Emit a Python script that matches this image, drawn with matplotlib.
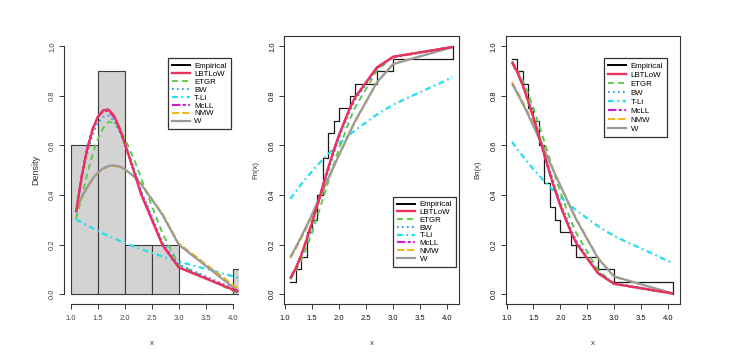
import matplotlib
matplotlib.use('Agg')
import matplotlib.pyplot as plt
from matplotlib.lines import Line2D

plt.rcParams['font.family'] = ['Liberation Sans', 'DejaVu Sans']

# sorted distinct observations and the empirical cdf / survival
xs = [1.1, 1.2, 1.3, 1.4, 1.5, 1.6, 1.7, 1.8, 1.9, 2.0, 2.2, 2.3, 2.7, 3.0, 4.1]
ecdf = [0.05, 0.10, 0.15, 0.25, 0.30, 0.40, 0.55, 0.65, 0.70, 0.75, 0.80, 0.85, 0.90, 0.95, 1.00]
esurv = [0.95, 0.90, 0.85, 0.75, 0.70, 0.60, 0.45, 0.35, 0.30, 0.25, 0.20, 0.15, 0.10, 0.05, 0.00]

hist_breaks = [1.0, 1.5, 2.0, 2.5, 3.0, 3.5, 4.0, 4.5]
hist_density = [0.6, 0.9, 0.2, 0.2, 0.0, 0.0, 0.1]

model_names = ['LBTLoW', 'ETGR', 'BW', 'T-Li', 'McLL', 'NMW', 'W']

# fitted densities at xs
pdf_lbtlow = [0.333, 0.47, 0.58, 0.66, 0.715, 0.742, 0.745, 0.72, 0.672, 0.61, 0.475, 0.405, 0.198, 0.108, 0.01]
pdf_etgr = [0.305, 0.39, 0.48, 0.56, 0.625, 0.67, 0.695, 0.692, 0.668, 0.63, 0.53, 0.47, 0.245, 0.12, 0.003]
pdf_bw = [0.33, 0.46, 0.565, 0.64, 0.69, 0.715, 0.72, 0.70, 0.66, 0.61, 0.49, 0.42, 0.21, 0.12, 0.015]
pdf_tli = [0.302, 0.29, 0.278, 0.267, 0.256, 0.245, 0.235, 0.225, 0.216, 0.207, 0.19, 0.182, 0.152, 0.132, 0.067]
pdf_mcll = [0.33, 0.475, 0.585, 0.665, 0.715, 0.738, 0.74, 0.715, 0.668, 0.607, 0.478, 0.41, 0.20, 0.11, 0.012]
pdf_nmw = [0.335, 0.385, 0.427, 0.462, 0.488, 0.505, 0.515, 0.517, 0.513, 0.503, 0.47, 0.447, 0.325, 0.205, 0.022]
pdf_w = [0.34, 0.39, 0.43, 0.465, 0.49, 0.508, 0.518, 0.52, 0.516, 0.505, 0.47, 0.445, 0.32, 0.20, 0.012]

# fitted cdfs at xs
cdf_lbtlow = [0.065, 0.105, 0.157, 0.22, 0.288, 0.361, 0.436, 0.509, 0.579, 0.643, 0.751, 0.795, 0.915, 0.958, 0.997]
cdf_etgr = [0.06, 0.095, 0.138, 0.19, 0.25, 0.315, 0.384, 0.453, 0.522, 0.587, 0.705, 0.755, 0.902, 0.958, 0.999]
cdf_bw = [0.065, 0.104, 0.155, 0.215, 0.282, 0.353, 0.426, 0.497, 0.565, 0.628, 0.738, 0.784, 0.91, 0.955, 0.996]
cdf_tli = [0.385, 0.415, 0.443, 0.47, 0.496, 0.52, 0.544, 0.566, 0.587, 0.607, 0.645, 0.662, 0.725, 0.765, 0.875]
cdf_mcll = [0.064, 0.105, 0.158, 0.222, 0.29, 0.363, 0.437, 0.51, 0.579, 0.642, 0.75, 0.794, 0.914, 0.957, 0.997]
cdf_nmw = [0.145, 0.183, 0.224, 0.268, 0.315, 0.364, 0.413, 0.463, 0.512, 0.56, 0.652, 0.696, 0.852, 0.93, 0.997]
cdf_w = [0.15, 0.19, 0.232, 0.276, 0.322, 0.37, 0.418, 0.467, 0.515, 0.562, 0.655, 0.70, 0.855, 0.928, 0.997]

# fitted survival functions at xs
sf_lbtlow = [0.935, 0.895, 0.843, 0.78, 0.712, 0.639, 0.564, 0.491, 0.421, 0.357, 0.249, 0.205, 0.085, 0.042, 0.003]
sf_etgr = [0.94, 0.905, 0.862, 0.81, 0.75, 0.685, 0.616, 0.547, 0.478, 0.413, 0.295, 0.245, 0.098, 0.042, 0.001]
sf_bw = [0.935, 0.896, 0.845, 0.785, 0.718, 0.647, 0.574, 0.503, 0.435, 0.372, 0.262, 0.216, 0.09, 0.045, 0.004]
sf_tli = [0.615, 0.585, 0.557, 0.53, 0.504, 0.48, 0.456, 0.434, 0.413, 0.393, 0.355, 0.338, 0.275, 0.235, 0.125]
sf_mcll = [0.936, 0.895, 0.842, 0.778, 0.71, 0.637, 0.563, 0.49, 0.421, 0.358, 0.25, 0.206, 0.086, 0.043, 0.003]
sf_nmw = [0.855, 0.817, 0.776, 0.732, 0.685, 0.636, 0.587, 0.537, 0.488, 0.44, 0.348, 0.304, 0.148, 0.07, 0.003]
sf_w = [0.85, 0.81, 0.768, 0.724, 0.678, 0.63, 0.582, 0.533, 0.485, 0.438, 0.345, 0.30, 0.145, 0.072, 0.003]

pdfs = [pdf_lbtlow, pdf_etgr, pdf_bw, pdf_tli, pdf_mcll, pdf_nmw, pdf_w]
cdfs = [cdf_lbtlow, cdf_etgr, cdf_bw, cdf_tli, cdf_mcll, cdf_nmw, cdf_w]
sfs = [sf_lbtlow, sf_etgr, sf_bw, sf_tli, sf_mcll, sf_nmw, sf_w]

# color, dashes, width, zorder
styles = [
    ('#E8335A', (None, None), 1.7, 9),
    ('#5CCC48', (3.0, 2.2), 1.4, 4),
    ('#3A9BF0', (0.8, 1.6), 1.5, 5),
    ('#22DDEE', (2.6, 1.6, 0.8, 1.6), 1.6, 3),
    ('#D815CF', (4.0, 1.2, 1.4, 1.2), 1.5, 8),
    ('#F5B000', (4.0, 1.6), 1.3, 6),
    ('#9A9A9A', (None, None), 1.6, 7),
]


def draw_models(ax, series):
    for name, vals, (col, dash, lw, z) in zip(model_names, series, styles):
        ln, = ax.plot(xs, vals, color=col, lw=lw, zorder=z, solid_capstyle='butt')
        if dash[0] is not None:
            ln.set_dashes(dash)


def add_legend(ax, x0, ytop, spacing):
    handles = [Line2D([], [], color='black', lw=1.4, label='Empirical')]
    for name, (col, dash, lw, z) in zip(model_names, styles):
        h = Line2D([], [], color=col, lw=lw, label=name)
        if dash[0] is not None:
            h.set_dashes(dash)
        handles.append(h)
    leg = ax.legend(handles=handles, loc='upper left', bbox_to_anchor=(x0, ytop),
                    frameon=True, fancybox=False, framealpha=1, edgecolor='#333333',
                    fontsize=5.7, handlelength=2.3, handletextpad=0.55,
                    labelspacing=spacing, borderpad=0.5, borderaxespad=0)
    leg.get_frame().set_linewidth(0.9)
    leg.set_zorder(20)


def style_axes(ax, ylabel, box=True, tick_color='#111111'):
    ax.set_ylim(-0.04, 1.04)
    ax.set_yticks([0.0, 0.2, 0.4, 0.6, 0.8, 1.0])
    ax.set_xticks([1.0, 1.5, 2.0, 2.5, 3.0, 3.5, 4.0])
    ax.set_yticklabels(['0.0', '0.2', '0.4', '0.6', '0.8', '1.0'])
    ax.set_xticklabels(['1.0', '1.5', '2.0', '2.5', '3.0', '3.5', '4.0'])
    ax.tick_params(direction='out', length=3.6, width=0.7, labelsize=5.5,
                   color='#333333', labelcolor=tick_color)
    ax.tick_params(axis='x', pad=4.5)
    ax.tick_params(axis='y', pad=2, labelrotation=90)
    for tl in ax.get_yticklabels():
        tl.set_va('center')
    for sp in ax.spines.values():
        sp.set_linewidth(0.8)
        sp.set_color('#333333')
    if not box:
        ax.spines['top'].set_visible(False)
        ax.spines['right'].set_visible(False)
        ax.spines['left'].set_bounds(0, 1)
        ax.spines['bottom'].set_bounds(1, 4)
    ax.set_xlabel('x', fontsize=5.5, color='#333333')
    ax.set_ylabel(ylabel, fontsize=5.5, color='#333333')
    ax.xaxis.set_label_coords(0.5, -36 / 267.8)
    ax.yaxis.set_label_coords(-24 / 175.0, 0.5)


fig = plt.figure(figsize=(7.4, 3.54), dpi=100)
bottom, height = 0.1407, 0.7565

# density with histogram
ax1 = fig.add_axes([0.0865, bottom, 0.2368, height])
ax1.bar(hist_breaks[:-1], hist_density, width=0.5, align='edge',
        color='#D3D3D3', edgecolor='#3A3A3A', linewidth=0.8, zorder=1)
draw_models(ax1, pdfs)
ax1.set_xlim(0.876, 4.12)
style_axes(ax1, 'Density', box=False, tick_color='#444444')
ax1.yaxis.label.set_size(6.5)
add_legend(ax1, 0.592, 0.918, 0.05)

# cdf
ax2 = fig.add_axes([0.3836, bottom, 0.2369, height])
ax2.step(xs, ecdf, where='post', color='#1A1A1A', lw=0.9, zorder=2)
draw_models(ax2, cdfs)
ax2.set_xlim(0.98, 4.22)
style_axes(ax2, 'Fn(x)')
add_legend(ax2, 0.624, 0.401, 0.03)

# survival
ax3 = fig.add_axes([0.6832, bottom, 0.2351, height])
ax3.step(xs, esurv, where='post', color='#1A1A1A', lw=0.9, zorder=2)
draw_models(ax3, sfs)
ax3.set_xlim(0.98, 4.22)
style_axes(ax3, 'Bn(x)')
add_legend(ax3, 0.566, 0.918, 0.18)

fig.savefig('out.png', dpi=100, facecolor='white')
